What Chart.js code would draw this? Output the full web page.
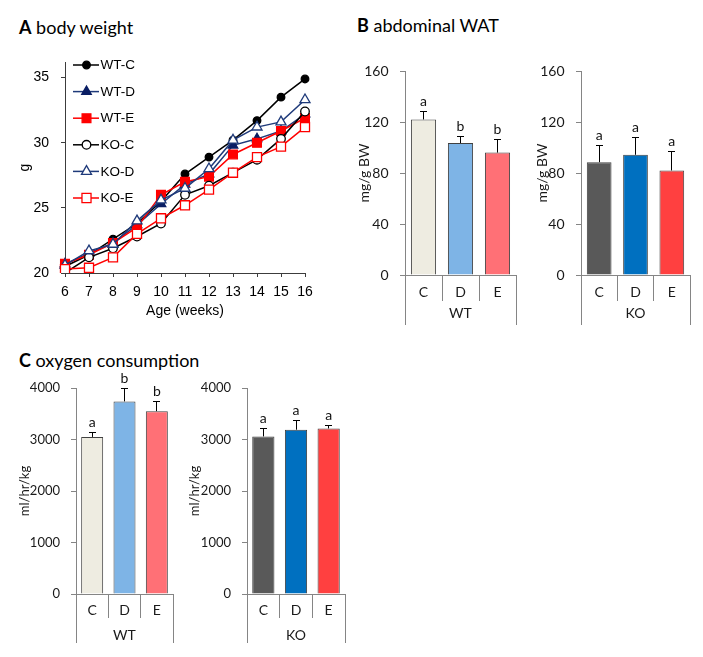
<!DOCTYPE html>
<html><head><meta charset="utf-8">
<script src="https://cdn.jsdelivr.net/npm/chart.js@4/dist/chart.umd.min.js"></script>
<style>
body{margin:0;background:#fff;width:703px;height:657px;position:relative;overflow:hidden;font-family:Lato,sans-serif;}
canvas{position:absolute;}
.title{position:absolute;font-family:Lato,sans-serif;font-size:18px;color:#000;white-space:nowrap;line-height:1;}
.title b{font-weight:700;}
</style></head><body>
<div class="title" style="left:19px;top:18px"><b>A</b> body weight</div>
<div class="title" style="left:357px;top:16px"><b>B</b> abdominal WAT</div>
<div class="title" style="left:19px;top:351px"><b>C</b> oxygen consumption</div>
<canvas id="cA" width="340" height="330" style="left:0;top:0"></canvas>
<canvas id="cB1" width="180" height="295" style="left:340px;top:40px"></canvas>
<canvas id="cB2" width="180" height="295" style="left:520px;top:40px"></canvas>
<canvas id="cC1" width="180" height="305" style="left:0;top:350px"></canvas>
<canvas id="cC2" width="175" height="305" style="left:180px;top:350px"></canvas>
<script>
// ---- data: body weight (g) ----
const weeks = [6,7,8,9,10,11,12,13,14,15,16];
const wtC = [20.5,21.4,22.6,23.8,25.5,27.6,28.9,30.2,31.7,33.5,34.9];
const wtD = [20.7,21.5,22.3,23.7,25.3,26.8,27.6,29.8,30.3,30.9,32.2];
const wtE = [20.7,21.4,22.3,23.5,26.0,27.0,27.4,29.1,30.0,30.9,31.9];
const koC = [20.0,21.2,21.9,22.8,23.8,26.0,26.7,27.7,28.7,30.3,32.4];
const koD = [20.6,21.7,22.2,24.0,25.6,26.5,28.0,30.2,31.2,31.6,33.3];
const koE = [20.3,20.4,21.2,23.0,24.2,25.2,26.4,27.7,28.9,29.7,31.2];
const weightTicks = [20,25,30,35];
const seriesNames = ['WT-C','WT-D','WT-E','KO-C','KO-D','KO-E'];

// ---- data: abdominal WAT (mg/g BW) ----
const groups = ['C','D','E'];
const watWT = [122,103.5,96];
const watWTerr = [6,5.5,10];
const watWTsig = ['a','b','b'];
const watKO = [88.5,94.3,82];
const watKOerr = [12.8,13.7,14.6];
const watKOsig = ['a','a','a'];

// ---- data: oxygen consumption (ml/hr/kg) ----
const o2WT = [3050,3740,3550];
const o2WTerr = [90,255,185];
const o2WTsig = ['a','b','b'];
const o2KO = [3060,3190,3215];
const o2KOerr = [145,180,65];
const o2KOsig = ['a','a','a'];

const wtColors = ['#EEECE1','#7EB4E6','#FF7076'];
const koColors = ['#595959','#0070C0','#FF4040'];

const AX_A = '#3c3c3c';
const AX_B = '#858585';
const align = v => Math.round(v - 0.5) + 0.5;

// ---------- Chart A ----------
const styleA = [
  {line:'#000000', fill:'#000000', border:'#000000', ps:'circle',   r:3.8},
  {line:'#1F3A7A', fill:'#0A1E64', border:'#0A1E64', ps:'triangle', r:5.5},
  {line:'#FF0000', fill:'#FF0000', border:'#FF0000', ps:'rect',     r:6.2},
  {line:'#000000', fill:'#FFFFFF', border:'#000000', ps:'circle',   r:4.3},
  {line:'#1F3A7A', fill:'#FFFFFF', border:'#1F3A7A', ps:'triangle', r:5.8},
  {line:'#FF0000', fill:'#FFFFFF', border:'#FF0000', ps:'rect',     r:6.4}
];
const seriesA = [wtC,wtD,wtE,koC,koD,koE];
const FA = '"Liberation Sans", Arial, sans-serif';

const legendA = {
  id:'legendA',
  afterDraw(chart){
    const ctx = chart.ctx, a = chart.chartArea;
    chart.data.datasets.forEach((ds,i)=>{
      const y = a.top + 3 + i*26.6;
      const x0 = a.left + 8, x1 = a.left + 34, xm = a.left + 21.5;
      ctx.save();
      ctx.strokeStyle = ds.borderColor; ctx.lineWidth = 1.5;
      ctx.beginPath(); ctx.moveTo(x0,y); ctx.lineTo(x1,y); ctx.stroke();
      ctx.fillStyle = ds.pointBackgroundColor; ctx.strokeStyle = ds.pointBorderColor;
      ctx.lineWidth = ds.pointBorderWidth;
      Chart.helpers.drawPoint(ctx,{pointStyle:ds.pointStyle, radius:ds.pointRadius, rotation:0, borderWidth:ds.pointBorderWidth}, xm, y);
      ctx.fillStyle = '#000'; ctx.font = '13.5px ' + FA;
      ctx.textAlign = 'left'; ctx.textBaseline = 'middle';
      ctx.fillText(ds.label, a.left + 35.5, y + 0.5);
      ctx.restore();
    });
  }
};

new Chart(document.getElementById('cA'), {
  type:'line',
  data:{
    labels: weeks,
    datasets: seriesA.map((arr,i)=>({
      label: seriesNames[i], data: arr, order: 6 - i,
      borderColor: styleA[i].line, borderWidth: 1.5,
      pointStyle: styleA[i].ps, pointRadius: styleA[i].r,
      pointBackgroundColor: styleA[i].fill, pointBorderColor: styleA[i].border,
      pointBorderWidth: 1.3, tension: 0, fill:false
    }))
  },
  options:{
    responsive:false, animation:false, devicePixelRatio:1,
    layout:{padding:{left:0,top:62,right:35,bottom:0}},
    plugins:{legend:{display:false}, tooltip:{enabled:false}},
    scales:{
      x:{
        type:'category', offset:false,
        grid:{drawOnChartArea:false, drawTicks:true, tickLength:4, color:AX_A, offset:false},
        border:{color:AX_A, width:1},
        ticks:{color:'#000', padding:7, font:{family:FA, size:14}, maxRotation:0, autoSkip:false},
        title:{display:true, text:'Age (weeks)', color:'#000', padding:{top:0,bottom:10}, font:{family:FA, size:14}},
        afterFit(s){ s.height = 57; }
      },
      y:{
        min:20, max:36.2,
        afterBuildTicks(s){ s.ticks = weightTicks.map(v=>({value:v})); },
        grid:{drawOnChartArea:false, drawTicks:true, tickLength:4, color:AX_A},
        border:{color:AX_A, width:1},
        ticks:{color:'#000', padding:12, font:{family:FA, size:14}},
        title:{display:true, text:'g', color:'#000', padding:{top:16.6,bottom:0}, font:{family:FA, size:14}},
        afterFit(s){ s.width = 65; }
      }
    }
  },
  plugins:[legendA]
});

// ---------- bar charts ----------
function errPlugin(errs, sigs){
  return {
    id:'errbars',
    afterDatasetsDraw(chart){
      const ctx = chart.ctx, y = chart.scales.y, meta = chart.getDatasetMeta(0);
      const vals = chart.data.datasets[0].data;
      ctx.save();
      ctx.strokeStyle = '#000'; ctx.lineWidth = 1;
      ctx.fillStyle = '#111'; ctx.font = '14px Lato, sans-serif';
      ctx.textAlign = 'center'; ctx.textBaseline = 'bottom';
      meta.data.forEach((bar,i)=>{
        const x = align(bar.x);
        const yb = y.getPixelForValue(vals[i]);
        const yt = align(y.getPixelForValue(vals[i] + errs[i]));
        ctx.beginPath();
        ctx.moveTo(x, yb); ctx.lineTo(x, yt);
        ctx.moveTo(x - 3.5, yt); ctx.lineTo(x + 3.5, yt);
        ctx.stroke();
        ctx.fillText(sigs[i], bar.x, yt - 3);
      });
      ctx.restore();
    }
  };
}
function boxPlugin(innerLen, outerLen){
  return {
    id:'catbox',
    afterDraw(chart){
      const ctx = chart.ctx, xs = chart.scales.x, a = chart.chartArea, n = xs.ticks.length;
      ctx.save(); ctx.strokeStyle = AX_B; ctx.lineWidth = 1; ctx.beginPath();
      for(let i=0;i<=n;i++){
        let px = i===0 ? a.left : (i===n ? a.right : (xs.getPixelForTick(i-1)+xs.getPixelForTick(i))/2);
        px = align(px);
        const len = (i===0 || i===n) ? outerLen : innerLen;
        ctx.moveTo(px, a.bottom); ctx.lineTo(px, a.bottom + len);
      }
      ctx.stroke(); ctx.restore();
    }
  };
}
function barChart(id, vals, errs, sigs, colors, group, yTitle, yMax, yStep, L){
  return new Chart(document.getElementById(id), {
    type:'bar',
    data:{ labels: groups, datasets:[{ data: vals, backgroundColor: colors, borderColor:'#404040', borderWidth:1,
      categoryPercentage:1, barPercentage:0.68 }]},
    options:{
      responsive:false, animation:false, devicePixelRatio:1,
      layout:{padding:{left:0, top:L.top, right:L.right, bottom:0}},
      plugins:{legend:{display:false}, tooltip:{enabled:false}},
      scales:{
        x:{
          grid:{display:false, drawTicks:false},
          border:{display:true, color:AX_B, width:1},
          ticks:{color:'#1a1a1a', padding:L.xTickPad, font:{family:'Lato, sans-serif', size:14}, maxRotation:0},
          title:{display:true, text:group, color:'#1a1a1a', padding:{top:0, bottom:L.xTitlePad}, font:{family:'Lato, sans-serif', size:14}},
          afterFit(s){ s.height = L.xH; }
        },
        y:{
          min:0, max:yMax,
          ticks:{stepSize:yStep, color:'#1a1a1a', padding:L.yTickPad, font:{family:'Lato, sans-serif', size:L.tickSize},
                 callback:v => String(v)},
          grid:{drawOnChartArea:false, drawTicks:true, tickLength:5, color:AX_B},
          border:{color:AX_B, width:1},
          title:{display:true, text:yTitle, color:'#1a1a1a', padding:{top:L.yTitlePad, bottom:0}, font:{family:'Lato, sans-serif', size:L.titleSize}},
          afterFit(s){ s.width = L.yW; }
        }
      }
    },
    plugins:[errPlugin(errs, sigs), boxPlugin(L.inner, L.outer)]
  });
}

barChart('cB1', watWT, watWTerr, watWTsig, wtColors, 'WT', 'mg/g BW', 160, 40,
  {top:31, right:4, yW:65, xH:60, xTickPad:8.6, xTitlePad:13.6, yTickPad:11.5, yTitlePad:15.6, tickSize:14, titleSize:14, inner:26, outer:50});
barChart('cB2', watKO, watKOerr, watKOsig, koColors, 'KO', 'mg/g BW', 160, 40,
  {top:31, right:10, yW:61, xH:60, xTickPad:8.6, xTitlePad:13.6, yTickPad:11.5, yTitlePad:13.6, tickSize:14, titleSize:14, inner:26, outer:50});
barChart('cC1', o2WT, o2WTerr, o2WTsig, wtColors, 'WT', 'ml/hr/kg', 4000, 1000,
  {top:38, right:7, yW:76, xH:61, xTickPad:7.6, xTitlePad:11.6, yTickPad:11, yTitlePad:17.2, tickSize:13, titleSize:13, inner:24, outer:49});
barChart('cC2', o2KO, o2KOerr, o2KOsig, koColors, 'KO', 'ml/hr/kg', 4000, 1000,
  {top:38, right:10, yW:67, xH:61, xTickPad:7.6, xTitlePad:11.6, yTickPad:11, yTitlePad:7.2, tickSize:13, titleSize:13, inner:24, outer:49});
</script>
</body></html>
